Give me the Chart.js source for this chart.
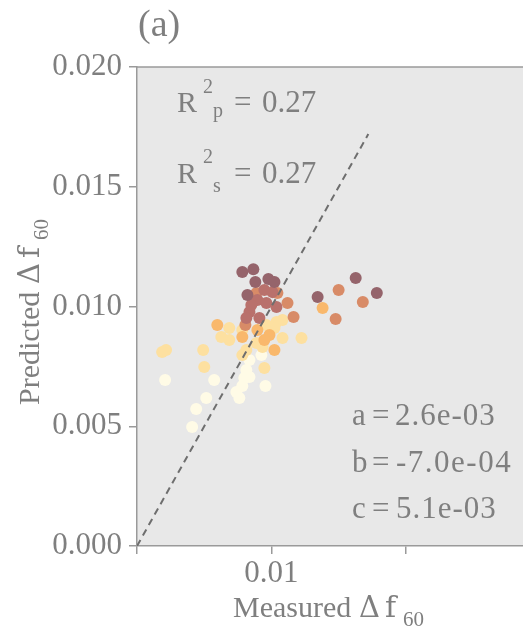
<!DOCTYPE html>
<html>
<head>
<meta charset="utf-8">
<script src="https://cdn.jsdelivr.net/npm/chart.js@4/dist/chart.umd.min.js"></script>
<style>
  html, body { margin: 0; padding: 0; background: #fff; overflow: hidden; }
  #wrap { width: 523px; height: 631px; position: relative; }
  canvas { display: block; }
</style>
</head>
<body>
<div id="wrap"><canvas id="scatter"></canvas></div>
<script>
// measured vs predicted df60, level = colour class (0 light .. 5 dark)
const measured = [
  0.00925, 0.00836, 0.00813, 0.00798, 0.00783, 0.00836, 0.00955, 0.00209, 0.00574, 0.00739, 0.00761, 0.00515, 0.00440, 0.00410,
  0.00686, 0.00627, 0.00686, 0.00783, 0.00962, 0.01037, 0.01082, 0.01022, 0.01082, 0.01223, 0.00888, 0.00933, 0.00813, 0.00783, 0.00216, 0.00187, 0.00492, 0.00500, 0.00947,
  0.01380, 0.00597, 0.00985, 0.01022, 0.00783, 0.00895, 0.00947,
  0.00888, 0.01044, 0.01119, 0.01164, 0.01499, 0.01679, 0.01477, 0.00806,
  0.00947, 0.01007, 0.00895, 0.00962, 0.01037, 0.00836, 0.00813, 0.00910, 0.00850,
  0.00783, 0.00865, 0.00880, 0.00977, 0.01022, 0.00821, 0.01343, 0.01626, 0.01783
];
const predicted = [
  0.00797, 0.00777, 0.00735, 0.00701, 0.00668, 0.00706, 0.00668, 0.00693, 0.00693, 0.00643, 0.00618, 0.00618, 0.00572, 0.00497,
  0.00910, 0.00873, 0.00860, 0.00902, 0.00923, 0.00935, 0.00944, 0.00910, 0.00868, 0.00868, 0.00848, 0.00831, 0.00818, 0.00797, 0.00818, 0.00810, 0.00818, 0.00747, 0.00743,
  0.00994, 0.00923, 0.00881, 0.00818, 0.00873, 0.00902, 0.00860,
  0.01056, 0.01056, 0.01015, 0.00956, 0.01069, 0.01019, 0.00948, 0.00923,
  0.01069, 0.01060, 0.01027, 0.01015, 0.00998, 0.00977, 0.00952, 0.00952, 0.01006,
  0.01144, 0.01156, 0.01102, 0.01115, 0.01102, 0.01048, 0.01040, 0.01119, 0.01056
];
const level = [
  0, 0, 0, 0, 0, 0, 0, 0, 0, 0, 0, 0, 0, 0,
  1, 1, 1, 1, 1, 1, 1, 1, 1, 1, 1, 1, 1, 1, 1, 1, 1, 1, 1,
  2, 2, 2, 2, 2, 2, 2,
  3, 3, 3, 3, 3, 3, 3, 3,
  4, 4, 4, 4, 4, 4, 4, 4, 4,
  5, 5, 5, 5, 5, 5, 5, 5, 5
];
const yTicks = [0, 0.005, 0.01, 0.015, 0.02];
const xTicks = [0, 0.01, 0.02];
const oneToOne = [0, 0.0172];

const palette = ['#fffbe6', '#fde0a0', '#f9b86c', '#d88b67', '#b9716c', '#95646b'];
const textGrey = '#7f7f7f';
const serif = '"Liberation Serif", "DejaVu Serif", serif';
const mathSerif = '"DejaVu Serif", serif';

let points = measured.map((m, i) => ({ x: m, y: predicted[i] }));

function put(ctx, t, x, y, size, fam, spacing) {
  ctx.font = size + 'px ' + (fam || serif);
  ctx.letterSpacing = spacing || '0px';
  ctx.fillText(t, x, y);
  ctx.letterSpacing = '0px';
}

const decor = {
  id: 'decor',
  beforeDraw(chart) {
    const ctx = chart.ctx, a = chart.chartArea;
    ctx.save();
    ctx.fillStyle = '#e8e8e8';
    ctx.fillRect(a.left, a.top, a.right - a.left, a.bottom - a.top);
    ctx.strokeStyle = '#9a9a9a';
    ctx.lineWidth = 1.5;
    ctx.beginPath();
    ctx.moveTo(a.left, a.top);
    ctx.lineTo(a.right, a.top);
    ctx.stroke();
    ctx.restore();
  },
  afterDraw(chart) {
    const ctx = chart.ctx;
    ctx.save();
    ctx.fillStyle = textGrey;
    ctx.textBaseline = 'alphabetic';
    ctx.textAlign = 'left';

    put(ctx, '(a)', 138, 36, 38);

    // R^2 labels
    put(ctx, 'R', 177, 112, 30);
    put(ctx, '2', 203, 93, 20);
    put(ctx, 'p', 213, 117, 20);
    put(ctx, '=', 234, 112, 31);
    put(ctx, '0.27', 262, 112, 31);
    put(ctx, 'R', 177, 183, 30);
    put(ctx, '2', 203, 163, 20);
    put(ctx, 's', 213, 192, 20);
    put(ctx, '=', 234, 183, 31);
    put(ctx, '0.27', 262, 183, 31);

    // fit coefficients
    put(ctx, 'a', 352, 425, 31);
    put(ctx, '=', 372, 425, 31);
    put(ctx, '2.6e-03', 395, 425, 31, null, '1px');
    put(ctx, 'b', 352, 472, 31);
    put(ctx, '=', 372, 472, 31);
    put(ctx, '-7.0e-04', 396, 472, 31, null, '1.5px');
    put(ctx, 'c', 352, 518, 31);
    put(ctx, '=', 372, 518, 31);
    put(ctx, '5.1e-03', 396, 518, 31, null, '1px');

    // x title
    put(ctx, 'Measured', 233, 617, 30);
    put(ctx, '\u0394', 359, 617, 29, mathSerif);
    put(ctx, 'f', 385, 617, 30, mathSerif);
    put(ctx, '60', 403, 626, 21);

    // y title, rotated
    ctx.translate(39, 405);
    ctx.rotate(-Math.PI / 2);
    put(ctx, 'Predicted', 0, 0, 30);
    put(ctx, '\u0394', 121, 0, 29, mathSerif);
    put(ctx, 'f', 147, 0, 30, mathSerif);
    put(ctx, '60', 165, 9, 21);
    ctx.restore();
  }
};

new Chart(document.getElementById('scatter'), {
  type: 'scatter',
  data: {
    datasets: [{
      type: 'line',
      data: oneToOne.map(v => ({ x: v, y: v })),
      borderColor: '#6e6e6e',
      borderWidth: 2,
      borderDash: [7, 5],
      pointRadius: 0,
      order: 0
    }, {
      data: points,
      backgroundColor: level.map(l => palette[l]),
      borderWidth: 0,
      pointRadius: 6,
      pointHoverRadius: 6,
      order: 1
    }]
  },
  options: {
    responsive: true,
    maintainAspectRatio: false,
    animation: false,
    layout: { autoPadding: false, padding: { top: 67, right: 0, left: 0, bottom: 0 } },
    plugins: { legend: { display: false }, tooltip: { enabled: false } },
    scales: {
      x: {
        type: 'linear',
        min: 0,
        max: 0.0287,
        afterFit(scale) { scale.height = 85; },
        afterBuildTicks(scale) { scale.ticks = xTicks.map(v => ({ value: v })); },
        ticks: {
          autoSkip: false,
          maxRotation: 0,
          padding: 1,
          color: textGrey,
          font: { family: serif, size: 31 },
          callback: v => (Math.abs(v - 0.01) < 1e-9 ? '0.01' : '')
        },
        grid: { drawOnChartArea: false, drawTicks: true, tickLength: 8, color: '#9a9a9a', lineWidth: 1.5 },
        border: { color: '#9a9a9a', width: 1.5 }
      },
      y: {
        min: 0,
        max: 0.02,
        afterFit(scale) { scale.width = 137; },
        afterBuildTicks(scale) { scale.ticks = yTicks.map(v => ({ value: v })); },
        ticks: {
          padding: 7,
          color: textGrey,
          font: { family: serif, size: 31 },
          callback: v => v.toFixed(3)
        },
        grid: { drawOnChartArea: false, drawTicks: true, tickLength: 8, color: '#9a9a9a', lineWidth: 1.5 },
        border: { color: '#9a9a9a', width: 1.5 }
      }
    }
  },
  plugins: [decor]
});
</script>
</body>
</html>
